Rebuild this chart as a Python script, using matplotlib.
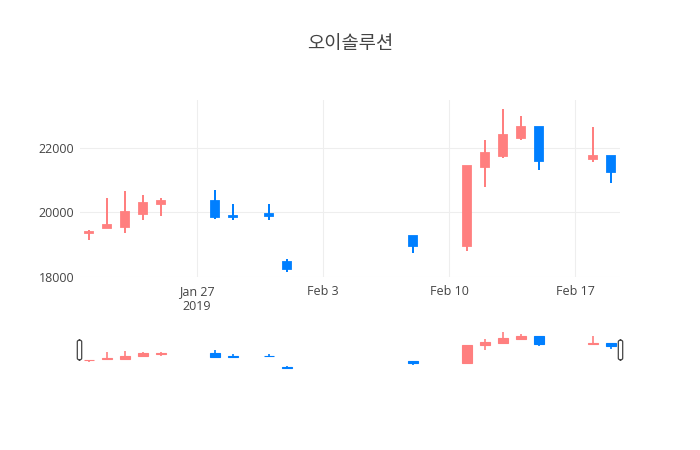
import matplotlib.pyplot as plt
import matplotlib.dates as mdates
from matplotlib.patches import FancyBboxPatch
from datetime import datetime

plt.rcParams['font.family'] = ['Open Sans', 'Noto Sans CJK KR', 'DejaVu Sans']

# dati giornalieri (OHLC)
dates = ['2019-01-21', '2019-01-22', '2019-01-23', '2019-01-24', '2019-01-25',
         '2019-01-28', '2019-01-29', '2019-01-31', '2019-02-01', '2019-02-08',
         '2019-02-11', '2019-02-12', '2019-02-13', '2019-02-14', '2019-02-15',
         '2019-02-18', '2019-02-19']
opens = [19350, 19500, 19550, 19950, 20250, 20350, 19900, 19950, 18450, 19250,
         18950, 21400, 21750, 22300, 22650, 21650, 21750]
highs = [19450, 20450, 20650, 20550, 20450, 20700, 20250, 20250, 18550, 19250,
         21450, 22250, 23200, 23000, 22650, 22650, 21750]
lows = [19150, 19500, 19350, 19750, 19900, 19800, 19750, 19750, 18150, 18750,
        18800, 20800, 21700, 22250, 21300, 21550, 20900]
closes = [19400, 19600, 20000, 20300, 20350, 19850, 19850, 19900, 18250, 18950,
          21450, 21850, 22400, 22650, 21600, 21750, 21250]

tick_dates = ['2019-01-27', '2019-02-03', '2019-02-10', '2019-02-17']
tick_labels = ['Jan 27\n2019', 'Feb 3', 'Feb 10', 'Feb 17']
y_ticks = [18000, 20000, 22000]

title = '오이솔루션'

up_col = '#ff7f7f'
down_col = '#007fff'

x = mdates.date2num([datetime.strptime(d, '%Y-%m-%d') for d in dates])
xt = mdates.date2num([datetime.strptime(d, '%Y-%m-%d') for d in tick_dates])


def candele(ax, lw_wick, lw_box, w):
	for i in range(len(x)):
		o, h, l, c = opens[i], highs[i], lows[i], closes[i]
		col = up_col if c >= o else down_col
		ax.vlines(x[i], l, h, color=col, linewidth=lw_wick, zorder=2)
		ax.bar(x[i], abs(c - o), bottom=min(o, c), width=w, color=col,
		       edgecolor=col, linewidth=lw_box, zorder=3)


fig = plt.figure(figsize=(7, 4.5), dpi=100)

# grafico principale
ax = fig.add_axes([80/700, 173/450, 540/700, 177/450])
candele(ax, 1.44, 1.3, 0.46)
xmin, xmax = x[0] - 0.5, x[-1] + 0.5
ax.set_xlim(xmin, xmax)
ax.set_ylim(17990, 23490)
ax.set_xticks(xt)
ax.set_xticklabels(tick_labels)
ax.set_yticks(y_ticks)
ax.grid(color='#eeeeee', linewidth=0.75, zorder=0)
ax.set_axisbelow(True)
for s in ax.spines.values():
	s.set_visible(False)
ax.tick_params(length=0, labelsize=9, colors='#444444', pad=6)
ax.tick_params(axis='y', pad=4)

fig.text(0.5, 1 - 44/450, title, ha='center', va='center', fontsize=13.5,
         color='#444444', family=['Noto Sans CJK KR', 'DejaVu Sans'])

# range slider
ax2 = fig.add_axes([80/700, 78/450, 540/700, 43/450])
candele(ax2, 1.2, 0.8, 0.55)
ax2.set_xlim(xmin, xmax)
ax2.set_ylim(17725, 23664)
ax2.axis('off')

for px in [77.3, 618.3]:
	h = FancyBboxPatch((px/700, 1 - 360/450), 4.4/700, 20/450,
	                   boxstyle='round,pad=0,rounding_size=0.004',
	                   transform=fig.transFigure, facecolor='white',
	                   edgecolor='#444444', linewidth=0.9)
	fig.patches.append(h)

plt.savefig('out.png', dpi=100)
